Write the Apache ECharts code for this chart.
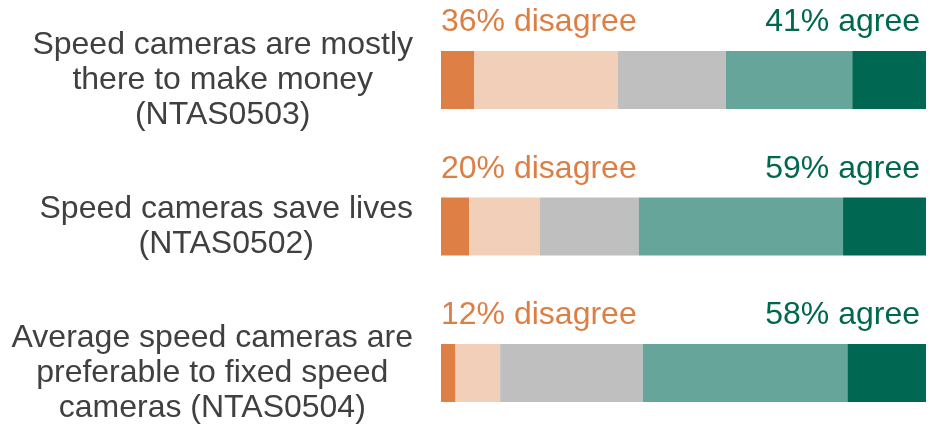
<!DOCTYPE html>
<html>
<head>
<meta charset="utf-8">
<script src="https://cdn.jsdelivr.net/npm/echarts@6/dist/echarts.min.js"></script>
<style>
  html, body { margin: 0; padding: 0; background: #ffffff; }
  #chart { width: 939px; height: 430px; }
</style>
</head>
<body>
<div id="chart"></div>
<script>
// Survey statements (NTAS attitudes to speed cameras), percentages of respondents
const categories = [
  'Speed cameras are mostly\nthere to make money\n(NTAS0503)',
  'Speed cameras save lives\n(NTAS0502)',
  'Average speed cameras are\npreferable to fixed speed\ncameras (NTAS0504)'
];
const stronglyDisagree = [6.9, 5.8, 3.0];
const disagree         = [29.5, 14.6, 9.2];
const neither          = [22.3, 20.4, 29.4];
const agree            = [26.1, 42.1, 42.2];
const stronglyAgree    = [15.2, 17.1, 16.2];

const FONT = "'Liberation Sans', Arial, sans-serif";
const ORANGE = '#DD7F45';
const GREEN = '#00684F';
const FONT_SIZE = 32;

const chart = echarts.init(document.getElementById('chart'), null, { renderer: 'canvas' });

function segment(name, values, color, extra) {
  return Object.assign({
    name: name,
    type: 'bar',
    stack: 'total',
    barWidth: 58,
    data: values,
    itemStyle: { color: color },
    emphasis: { disabled: true }
  }, extra || {});
}

const labelText = {
  fontSize: FONT_SIZE,
  fontFamily: FONT,
  verticalAlign: 'middle'
};

chart.setOption({
  animation: false,
  grid: { left: 441, right: 13, top: 80, bottom: 57 },
  xAxis: { type: 'value', min: 0, max: 100, show: false },
  yAxis: {
    type: 'category',
    data: categories,
    inverse: true,
    boundaryGap: false,
    axisLine: { show: false },
    axisTick: { show: false },
    splitLine: { show: false },
    axisLabel: {
      align: 'right',
      margin: 28,
      formatter: v => v.split('\n').map(l => '{c|' + l + '}').join('\n'),
      rich: {
        c: {
          align: 'center',
          fontSize: FONT_SIZE,
          lineHeight: 35,
          fontFamily: FONT,
          color: '#404040'
        }
      }
    }
  },
  series: [
    segment('Strongly disagree', stronglyDisagree, '#DE8046', {
      label: Object.assign({
        show: true,
        position: [0, -28.5],
        align: 'left',
        color: ORANGE,
        formatter: p => Math.round(stronglyDisagree[p.dataIndex] + disagree[p.dataIndex]) + '% disagree'
      }, labelText)
    }),
    segment('Disagree', disagree, '#F2CFB8'),
    segment('Neither', neither, '#BFBFBF'),
    segment('Agree', agree, '#66A599'),
    segment('Strongly agree', stronglyAgree, '#006852', {
      label: Object.assign({
        show: true,
        position: ['100%', -28.5],
        offset: [-6, 0],
        align: 'right',
        color: GREEN,
        formatter: p => Math.round(agree[p.dataIndex] + stronglyAgree[p.dataIndex]) + '% agree'
      }, labelText)
    })
  ]
});
</script>
</body>
</html>
